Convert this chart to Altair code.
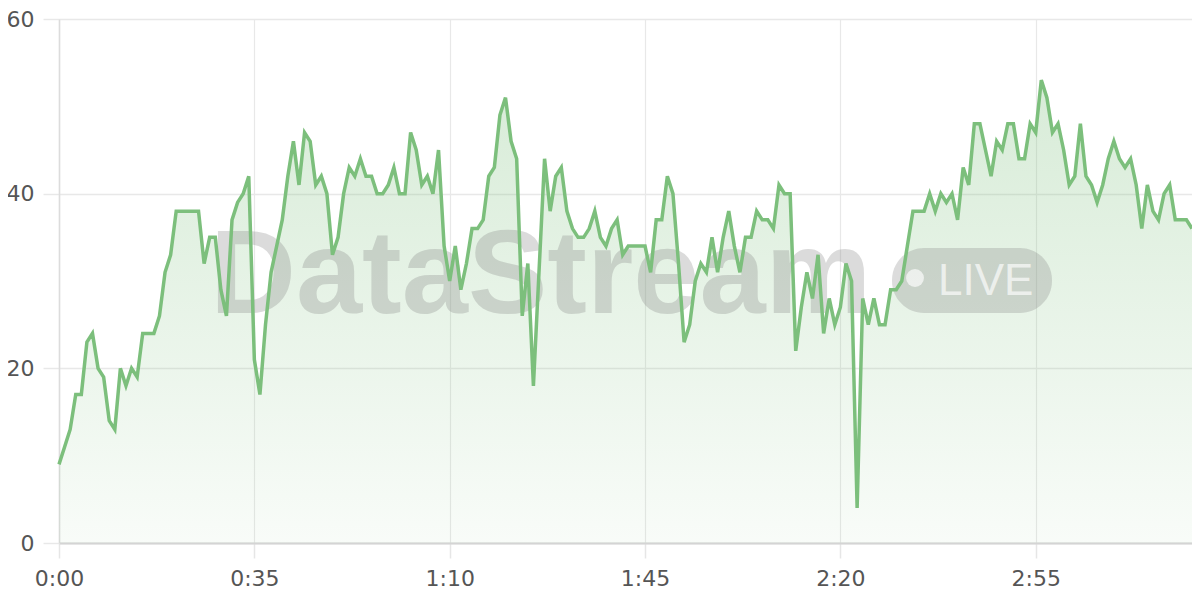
import altair as alt
import pandas as pd

# seconds since start (one reading per second)
seconds = list(range(0, 204))
values = [
    9, 11, 13, 17, 17, 23, 24, 20, 19, 14,
    13, 20, 18, 20, 19, 24, 24, 24, 26, 31,
    33, 38, 38, 38, 38, 38, 32, 35, 35, 29,
    26, 37, 39, 40, 42, 21, 17, 25, 31, 34,
    37, 42, 46, 41, 47, 46, 41, 42, 40, 33,
    35, 40, 43, 42, 44, 42, 42, 40, 40, 41,
    43, 40, 40, 47, 45, 41, 42, 40, 45, 34,
    30, 34, 29, 32, 36, 36, 37, 42, 43, 49,
    51, 46, 44, 26, 32, 18, 31, 44, 38, 42,
    43, 38, 36, 35, 35, 36, 38, 35, 34, 36,
    37, 33, 34, 34, 34, 34, 31, 37, 37, 42,
    40, 32, 23, 25, 30, 32, 31, 35, 31, 35,
    38, 34, 31, 35, 35, 38, 37, 37, 36, 41,
    40, 40, 22, 27, 31, 28, 33, 24, 28, 25,
    27, 32, 30, 4, 28, 25, 28, 25, 25, 29,
    29, 30, 34, 38, 38, 38, 40, 38, 40, 39,
    40, 37, 43, 41, 48, 48, 45, 42, 46, 45,
    48, 48, 44, 44, 48, 47, 53, 51, 47, 48,
    45, 41, 42, 48, 42, 41, 39, 41, 44, 46,
    44, 43, 44, 41, 36, 41, 38, 37, 40, 41,
    37, 37, 37, 36,
]
x_ticks = [0, 35, 70, 105, 140, 175]
y_ticks = [0, 20, 40, 60]
watermark_text = "DataStream"
badge_text = "LIVE"

df = pd.DataFrame({"t": seconds, "v": values})
one = pd.DataFrame({"k": [0]})

GREEN = "#7cbf7c"
FONT = "DejaVu Sans"
LABEL = "#555555"

x_enc = alt.X(
    "t:Q",
    scale=alt.Scale(domain=[0, 203], nice=False, zero=False),
    axis=alt.Axis(
        values=x_ticks,
        labelExpr="floor(datum.value/60) + ':' + (datum.value % 60 < 10 ? '0' : '') + (datum.value % 60)",
        title=None,
        tickSize=15,
        tickColor="#e6e6e6",
        tickWidth=1.5,
        labelPadding=10,
        labelFontSize=22,
        labelFont=FONT,
        labelColor=LABEL,
        domainColor="#d4d4d4",
        domainWidth=2,
        gridColor="#e8e8e8",
        gridWidth=1.2,
        labelFlush=False,
    ),
)
y_enc = alt.Y(
    "v:Q",
    scale=alt.Scale(domain=[0, 60], nice=False),
    axis=alt.Axis(
        values=y_ticks,
        title=None,
        tickSize=16,
        tickColor="#e8e8e8",
        tickWidth=1.5,
        labelPadding=9,
        labelFontSize=22,
        labelFont=FONT,
        labelColor=LABEL,
        domainColor="#dcdcdc",
        domainWidth=1.5,
        gridColor="#e8e8e8",
        gridWidth=1.5,
    ),
)

area = alt.Chart(df).mark_area(
    color=alt.Gradient(
        gradient="linear",
        stops=[
            alt.GradientStop(color="rgba(124,191,124,0.30)", offset=0),
            alt.GradientStop(color="rgba(124,191,124,0.05)", offset=1),
        ],
        x1=1, x2=1, y1=0, y2=1,
    ),
).encode(x=x_enc, y=y_enc)

wm_text = alt.Chart(one).mark_text(
    text=watermark_text, font="Liberation Sans", fontWeight="bold", fontSize=119,
    align="left", baseline="alphabetic", color="#808080", opacity=0.28,
).encode(x=alt.value(151), y=alt.value(294))

pill = alt.Chart(one).mark_rect(
    color="#808080", opacity=0.28, cornerRadius=32,
).encode(x=alt.value(833), x2=alt.value(993), y=alt.value(229), y2=alt.value(294))

dot = alt.Chart(one).mark_circle(
    color="white", opacity=0.65, size=320,
).encode(x=alt.value(856), y=alt.value(259))

live = alt.Chart(one).mark_text(
    text=badge_text, font="Liberation Sans", fontSize=44,
    align="left", baseline="alphabetic", color="white", opacity=0.65,
).encode(x=alt.value(879), y=alt.value(276))

line = alt.Chart(df).mark_line(
    color=GREEN, strokeWidth=3.5, strokeJoin="miter",
).encode(x=x_enc, y=y_enc)

chart = alt.layer(area, wm_text, pill, dot, live, line).properties(
    width=1133,
    height=524,
    autosize=alt.AutoSizeParams(type="none"),
    padding={"left": 51, "top": 11, "right": 0, "bottom": 49},
    background="white",
).configure_view(stroke=None)

chart.save("out.html", embed_options={"renderer": "svg", "actions": False})
